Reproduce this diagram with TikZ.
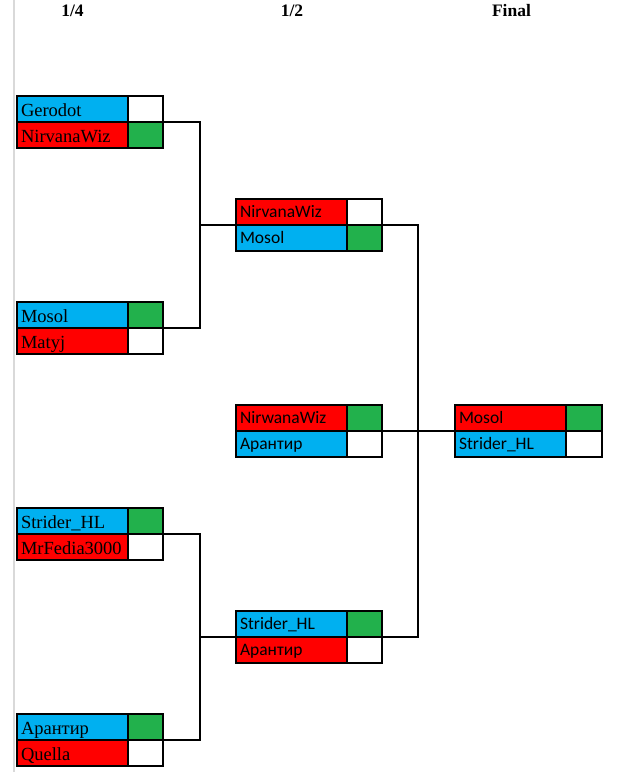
\documentclass[tikz,border=0pt]{standalone}
\usepackage{fontspec}
\setmainfont{Liberation Serif}
\newfontfamily\bracketsans{Carlito}
\usepackage{tikz}
\usetikzlibrary{positioning}
\definecolor{teamblue}{HTML}{00B0F0}
\definecolor{teamred}{HTML}{FF0000}
\definecolor{wingreen}{HTML}{22B14C}
\definecolor{gridgray}{HTML}{D9D9D9}
\tikzset{
  player/.style={draw, line width=1.6pt, anchor=north west, inner xsep=4pt, inner ysep=0pt, outer sep=0pt, minimum width=111pt, minimum height=26pt, text width=103pt, align=left},
  scorebox/.style={draw, line width=1.6pt, outer sep=0pt, inner sep=0pt, minimum width=35pt, minimum height=26pt},
  roundlabel/.style={font=\bfseries\fontsize{17.5}{20}\selectfont},
  serifrow/.style={font=\fontsize{18.5}{20}\selectfont, text height=15pt, text depth=0pt},
  sansrow/.style={font=\bracketsans\fontsize{17.5}{20}\selectfont, text height=11pt, text depth=0pt},
  link/.style={line width=1.6pt}
}

\begin{document}
\begin{tikzpicture}[x=1pt,y=-1pt]
  \useasboundingbox (0,0) rectangle (627,772);
  \draw[gridgray, line width=1.2pt] (14,0) -- (14,772);

  % Round headers
  \node[roundlabel] (hq) at (72.5,10.5) {1/4};
  \node[roundlabel] (hs) at (292,10.5) {1/2};
  \node[roundlabel] (hf) at (511.5,10.5) {Final};

  % Quarter-finals
  \foreach \id/\y/\ta/\tc/\tw/\ba/\bc/\bw in {
      q1/96/Gerodot/teamblue/white/NirvanaWiz/teamred/wingreen,
      q2/302/Mosol/teamblue/wingreen/Matyj/teamred/white,
      q3/508/Strider\_HL/teamblue/wingreen/MrFedia3000/teamred/white,
      q4/714/Арантир/teamblue/wingreen/Quella/teamred/white} {
    \node[player, serifrow, fill=\tc] (\id-top) at (17,\y) {\ta};
    \node[scorebox, fill=\tw, right=0pt of \id-top] (\id-topsc) {};
    \node[player, serifrow, fill=\bc, below=0pt of \id-top] (\id-bot) {\ba};
    \node[scorebox, fill=\bw, right=0pt of \id-bot] (\id-botsc) {};
  }

  % Semi-finals
  \foreach \id/\y/\ta/\tc/\tw/\ba/\bc/\bw in {
      s1/199/NirvanaWiz/teamred/white/Mosol/teamblue/wingreen,
      s2/405/NirwanaWiz/teamred/wingreen/Арантир/teamblue/white,
      s3/611/Strider\_HL/teamblue/wingreen/Арантир/teamred/white} {
    \node[player, sansrow, fill=\tc] (\id-top) at (236,\y) {\ta};
    \node[scorebox, fill=\tw, right=0pt of \id-top] (\id-topsc) {};
    \node[player, sansrow, fill=\bc, below=0pt of \id-top] (\id-bot) {\ba};
    \node[scorebox, fill=\bw, right=0pt of \id-bot] (\id-botsc) {};
  }

  % Final
  \node[player, sansrow, fill=teamred] (f-top) at (455,405) {Mosol};
  \node[scorebox, fill=wingreen, minimum width=36pt, right=0pt of f-top] (f-topsc) {};
  \node[player, sansrow, fill=teamblue, below=0pt of f-top] (f-bot) {Strider\_HL};
  \node[scorebox, fill=white, minimum width=36pt, right=0pt of f-bot] (f-botsc) {};

  % Connectors
  \coordinate (j1) at ([xshift=-36pt]s1-top.south west);
  \coordinate (j2) at ([xshift=-36pt]s3-top.south west);
  \coordinate (jf) at ([xshift=-37pt]f-top.south west);
  \draw[link] (q1-topsc.south east) -| (j1) |- (q2-topsc.south east);
  \draw[link] (j1) -- (s1-top.south west);
  \draw[link] (q3-topsc.south east) -| (j2) |- (q4-topsc.south east);
  \draw[link] (j2) -- (s3-top.south west);
  \draw[link] (s1-topsc.south east) -| (jf) |- (s3-topsc.south east);
  \draw[link] (s2-topsc.south east) -- (jf) -- (f-top.south west);
\end{tikzpicture}
\end{document}
